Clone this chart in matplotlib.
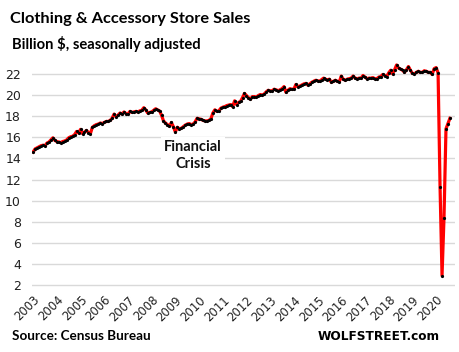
import numpy as np
import matplotlib.pyplot as plt

# Monthly clothing & accessory store sales, billion $, Jan 2003 .. Aug 2020
sales = [
    14.6, 14.9, 15.0, 15.1, 15.2, 15.25, 15.2, 15.45, 15.55, 15.75, 15.95, 15.7,    # 2003
    15.6, 15.55, 15.5, 15.6, 15.65, 15.75, 15.95, 16.05, 16.1, 16.25, 16.55, 16.4,  # 2004
    16.75, 16.35, 16.5, 16.65, 16.45, 16.35, 16.95, 17.1, 17.2, 17.25, 17.35, 17.3,  # 2005
    17.4, 17.5, 17.5, 17.6, 17.8, 18.2, 17.95, 18.1, 18.3, 18.2, 18.4, 18.25,       # 2006
    18.2, 18.45, 18.35, 18.4, 18.45, 18.4, 18.5, 18.55, 18.8, 18.6, 18.3, 18.35,    # 2007
    18.4, 18.55, 18.7, 18.6, 18.5, 18.1, 17.55, 17.35, 17.2, 17.05, 17.4, 17.0,     # 2008
    16.5, 16.95, 16.8, 16.85, 17.0, 17.15, 17.25, 17.3, 17.2, 17.25, 17.45, 17.8,   # 2009
    17.75, 17.7, 17.6, 17.55, 17.55, 17.6, 17.75, 18.3, 18.6, 18.45, 18.5, 18.75,   # 2010
    18.85, 18.9, 19.0, 19.05, 19.1, 18.9, 19.45, 19.1, 19.3, 19.4, 19.75, 20.15,    # 2011
    19.95, 19.75, 19.6, 19.85, 19.85, 19.8, 19.95, 20.05, 20.0, 20.1, 20.3, 20.45,  # 2012
    20.4, 20.4, 20.55, 20.5, 20.4, 20.5, 20.6, 20.8, 20.25, 20.45, 20.6, 20.55,     # 2013
    20.55, 21.0, 20.8, 20.85, 20.95, 21.05, 21.1, 20.95, 21.05, 21.2, 21.3, 21.4,   # 2014
    21.35, 21.3, 21.45, 21.6, 21.5, 21.45, 21.5, 21.2, 21.3, 21.4, 21.3, 21.25,     # 2015
    21.8, 21.5, 21.4, 21.5, 21.55, 21.6, 21.8, 21.6, 21.55, 21.6, 21.6, 21.85,      # 2016
    21.7, 21.55, 21.6, 21.6, 21.65, 21.55, 21.55, 21.7, 21.75, 21.95, 21.85, 21.75, # 2017
    22.1, 22.35, 22.0, 22.4, 22.85, 22.55, 22.45, 22.35, 22.15, 22.4, 22.7, 22.35,  # 2018
    22.05, 22.0, 22.15, 22.25, 22.15, 22.15, 22.3, 22.25, 22.15, 22.15, 21.95, 22.5, # 2019
    22.6, 22.1, 11.3, 2.9, 8.4, 16.8, 17.3, 17.8,                                    # 2020
]
years = list(range(2003, 2021))
y_ticks = [2, 4, 6, 8, 10, 12, 14, 16, 18, 20, 22]

months = np.arange(len(sales))

fig = plt.figure(figsize=(4.59, 3.52), dpi=100)
ax = fig.add_axes([0.070, 0.178, 0.921, 0.648])

ax.plot(months, sales, color="#ff0000", lw=2.3, zorder=3)
ax.plot(months, sales, "o", color="black", ms=2.3, mew=0, zorder=4)

ax.set_xlim(-0.5, 213.5)
ax.set_ylim(1.6, 23.2)
ax.set_yticks(y_ticks)
ax.set_xticks([12 * (y - 2003) for y in years])
ax.set_xticklabels([str(y) for y in years], rotation=45, ha="right",
                   rotation_mode="anchor", fontsize=8.4, color="#202020")
ax.tick_params(axis="y", labelsize=9, colors="#202020", length=0, pad=8)
ax.tick_params(axis="x", length=0, pad=3)
ax.grid(axis="y", color="#d9d9d9", lw=1.0)
ax.set_axisbelow(True)
for s in ax.spines.values():
    s.set_visible(False)

ax.text(81, 14.3, "Financial\nCrisis", ha="center", va="center", fontsize=10.5,
        fontweight="bold", family="Lato", linespacing=1.3, color="#111111",
        bbox=dict(facecolor="white", edgecolor="none", pad=2), zorder=5)

fig.text(0.022, 0.945, "Clothing & Accessory Store Sales", fontsize=11.8,
         fontweight="bold", family="Lato", va="center")
fig.text(0.026, 0.875, "Billion $, seasonally adjusted", fontsize=10.6,
         fontweight="bold", family="Lato", va="center")
fig.text(0.026, 0.045, "Source: Census Bureau", fontsize=9.7,
         fontweight="bold", family="Lato", va="center")
fig.text(0.958, 0.045, "WOLFSTREET.com", fontsize=8.7,
         fontweight="bold", family="DejaVu Sans", va="center", ha="right")

fig.savefig("out.png", dpi=100)
